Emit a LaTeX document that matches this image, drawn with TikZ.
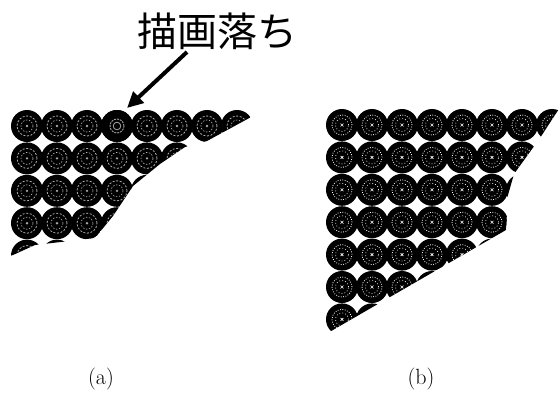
\documentclass[tikz,border=0pt]{standalone}
\usepackage{fontspec}
\newfontfamily\jpfont{Noto Sans CJK JP}
\usetikzlibrary{arrows.meta}
\tikzset{
  diskA/.pic={
    \fill[black] (0,0) circle (16pt);
    \draw[gray!65, line width=0.8pt, dash pattern=on 2pt off 1.6pt] (0,0) circle (10pt);
    \draw[gray!55, line width=0.6pt, dash pattern=on 1.4pt off 1.6pt] (0,0) circle (6pt);
    \fill[gray!70] (0,0) circle (1.3pt);
  },
  diskH/.pic={
    \fill[black] (0,0) circle (16pt);
    \draw[gray!75, line width=0.9pt, dash pattern=on 2pt off 1pt] (0,0) circle (7pt);
    \draw[gray!70, line width=0.8pt] (0,0) circle (3.8pt);
  },
  diskB/.pic={
    \fill[black] (0,0) circle (16pt);
    \draw[white, line width=0.8pt, dash pattern=on 0.8pt off 1.6pt] (0,0) circle (10pt);
    \draw[white, line width=0.7pt, dash pattern=on 0.8pt off 2.2pt] (0,0) circle (6.5pt);
    \draw[white, line width=0.6pt] (-1.4pt,-1.4pt) -- (1.4pt,1.4pt) (-1.4pt,1.4pt) -- (1.4pt,-1.4pt);
  },
  jplabel/.style={font=\jpfont\fontsize{40}{40}\selectfont, inner sep=0pt},
  caplabel/.style={font=\fontsize{22}{22}\selectfont, inner sep=0pt},
  bigarrow/.style={line width=4pt, -{Triangle[length=16pt,width=15pt]}}
}
\begin{document}
\begin{tikzpicture}[x=1pt,y=-1pt]
\useasboundingbox (0,0) rectangle (560,394);
\fill[white] (0,0) rectangle (560,394);
% panel (a)
\begin{scope}
  \clip (-10,262) -- (13,255) -- (35,245) -- (95,238) -- (113,216) -- (133,186)
        -- (160,164) -- (185,147) -- (207,141) -- (253,116) -- (290,98)
        -- (290,-5) -- (-10,-5) -- cycle;
  \foreach \i in {0,...,7} {
    \foreach \j in {0,...,4} {
      \pic at ({27+30*\i},{126+32.4*\j}) {diskA};
    }
  }
  \pic at (117,126) {diskH};
\end{scope}
% panel (b)
\begin{scope}
  \clip (300,80) -- (572,80) -- (568,95) -- (540,138) -- (514,174) -- (508,195)
        -- (506,230) -- (326,334) -- (300,334) -- cycle;
  \foreach \i in {0,...,7} {
    \foreach \j in {0,...,6} {
      \pic at ({342+30*\i},{125+32.4*\j}) {diskB};
    }
  }
\end{scope}
% label and arrow
\node[jplabel] (lbl) at (217,31) {描画落ち};
\coordinate (astart) at (187,52);
\coordinate (atip) at (127,108);
\draw[bigarrow] (astart) -- (atip);
% captions
\node[caplabel] (capa) at (101,379) {(a)};
\node[caplabel] (capb) at (421,379) {(b)};
\end{tikzpicture}
\end{document}
